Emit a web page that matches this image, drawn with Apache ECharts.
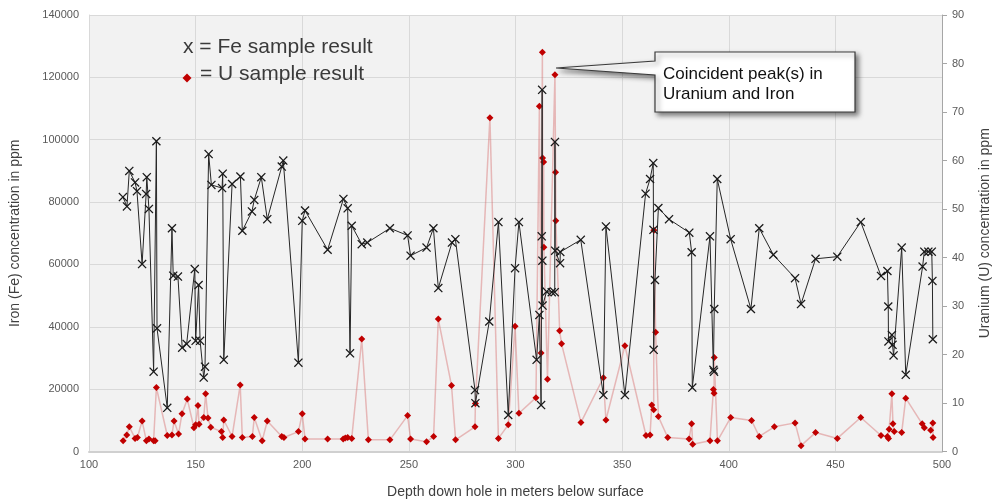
<!DOCTYPE html>
<html><head><meta charset="utf-8">
<script src="https://cdn.jsdelivr.net/npm/echarts@6/dist/echarts.min.js"></script>
<style>html,body{margin:0;padding:0;background:#fff;overflow:hidden}#c{width:992px;height:503px}</style>
</head><body><div id="c"></div>
<script>
// Fe sample results (ppm) vs depth (m)
var feDepth = [115.9,117.8,118.9,121.6,122.5,124.9,126.8,127.1,128.1,130.3,131.6,131.9,136.7,138.9,139.5,141.7,143.7,145.8,149.6,150.0,151.4,152.1,153.8,154.4,156.1,157.4,162.4,162.7,163.2,167.1,171.0,171.9,176.4,177.5,180.8,183.6,190.4,191.1,198.2,200.0,201.3,211.9,219.3,221.3,222.4,223.2,227.9,230.5,241.1,249.4,250.8,258.3,261.5,263.8,270.2,271.8,281.0,281.2,287.7,292.0,296.6,299.8,301.6,309.9,311.2,312.0,312.3,312.5,312.6,312.7,314.6,317.0,318.4,318.5,318.6,320.9,321.0,330.6,341.2,342.4,351.3,361.0,363.1,364.6,364.7,364.8,365.4,367.0,372.0,381.5,382.6,382.9,391.2,392.8,393.1,393.2,394.6,400.9,410.4,414.3,420.9,431.1,433.9,440.7,450.9,461.9,471.4,474.4,474.8,474.9,476.5,476.8,477.3,481.1,483.0,490.9,491.7,493.6,495.2,495.5,495.7];
var feValue = [81600,78600,90000,86300,83500,60100,82600,88000,77800,25600,99500,39500,14000,71600,56400,56100,33300,34500,58500,35500,53400,35500,23700,27200,95400,85500,84500,89100,29400,85800,88200,70800,77000,80700,88000,74500,91400,93300,28500,74000,77300,64700,81000,78000,31500,72400,66500,67000,71600,69300,62800,65400,71600,52400,67000,68100,19700,15500,41700,73600,11700,58800,73600,29400,43800,14900,69000,116000,61200,46800,51300,51100,51100,99300,64400,60400,64000,67900,18100,72200,18100,82700,87400,92500,71100,32600,55000,78100,74500,70200,63900,20500,69000,26200,25600,45700,87400,68100,45700,71600,63100,55600,47300,61800,62500,73600,56300,57900,46500,35300,37400,34200,30800,65400,24600,59300,64100,64100,64100,54700,36000];
// U sample results (ppm) vs depth (m)
var uDepth = [116.0,117.7,118.9,121.6,122.7,124.9,126.9,128.1,130.3,131.0,131.6,136.7,138.9,139.9,142.0,143.6,146.1,149.2,150.0,151.1,151.6,153.8,154.7,155.8,157.1,162.1,162.7,163.2,167.1,170.9,171.9,176.6,177.5,181.2,183.6,190.4,191.4,198.2,200.0,201.3,211.9,219.2,220.2,221.3,223.2,227.9,231.0,241.1,249.4,250.8,258.3,261.6,263.8,270.0,271.9,281.0,281.2,288.0,292.0,296.6,299.8,301.6,309.6,311.2,312.0,312.6,312.7,313.2,313.3,315.0,318.5,318.8,318.9,320.7,321.6,330.7,341.2,342.4,351.3,361.2,363.1,363.9,364.8,364.9,365.7,367.0,371.4,381.4,382.6,383.1,391.2,392.8,393.1,393.2,394.7,400.9,410.7,414.3,421.4,431.1,433.9,440.7,450.9,461.9,471.4,474.4,474.9,475.2,476.5,477.0,477.6,481.1,483.0,490.7,491.7,494.7,495.7,495.8];
var uValue = [2.2,3.4,5.1,2.7,2.9,6.3,2.2,2.6,2.2,2.2,13.2,3.3,3.4,6.3,3.6,7.8,10.8,4.9,5.5,9.5,5.6,7.0,11.9,6.9,5.0,4.1,2.9,6.5,3.1,13.7,2.9,3.1,7.0,2.2,6.3,3.1,2.9,4.1,7.8,2.6,2.6,2.6,2.8,2.9,2.7,23.2,2.4,2.4,7.4,2.6,2.0,3.1,27.3,13.6,2.4,5.1,9.9,68.8,2.7,5.5,25.8,7.9,11.1,71.2,20.3,82.3,60.5,59.7,42.1,14.9,77.7,57.6,47.6,24.9,22.2,6.0,15.2,6.5,21.8,3.3,3.4,9.6,8.6,45.6,24.6,7.2,2.9,2.6,5.7,1.5,2.2,12.8,12.0,19.4,2.2,7.0,6.4,3.1,5.1,5.9,1.2,3.9,2.7,7.0,3.3,3.1,2.7,4.6,11.9,5.7,4.1,3.9,11.0,5.7,4.9,4.4,5.9,2.9];

var xTicks = {min:100, max:500, interval:50};
var feTicks = {min:0, max:140000, interval:20000};
var uTicks = {min:0, max:90, interval:10};

function zip(a,b){return a.map(function(v,i){return [v,b[i]];});}
var xPath = 'path://M0,1 L1,0 L5,4 L9,0 L10,1 L6,5 L10,9 L9,10 L5,6 L1,10 L0,9 L4,5 Z';
var lab = {color:'#595959', fontSize:11, fontFamily:'Liberation Sans, Arial, sans-serif'};
var nameSty = {color:'#404040', fontSize:14, fontFamily:'Liberation Sans, Arial, sans-serif'};

var chart = echarts.init(document.getElementById('c'), null, {renderer:'canvas'});
chart.setOption({
  animation:false,
  backgroundColor:'#ffffff',
  grid:{left:89, right:50, top:15, bottom:51.5, show:true, backgroundColor:'#f2f2f2', borderWidth:0,
        containLabel:false, outerBoundsMode:'none'},
  xAxis:{type:'value', min:xTicks.min, max:xTicks.max, interval:xTicks.interval,
    name:'Depth down hole in meters below surface', nameLocation:'middle', nameGap:34, nameTextStyle:nameSty,
    axisLine:{show:true, lineStyle:{color:'#d0d0d0', width:2}}, axisTick:{show:false},
    axisLabel:Object.assign({margin:8}, lab),
    splitLine:{show:true, lineStyle:{color:'#d9d9d9', width:1}}},
  yAxis:[{type:'value', min:feTicks.min, max:feTicks.max, interval:feTicks.interval, position:'left',
    name:'Iron (Fe) concentration in ppm', nameLocation:'middle', nameGap:67, nameTextStyle:nameSty,
    axisLine:{show:true, lineStyle:{color:'#d9d9d9'}}, axisTick:{show:false},
    axisLabel:Object.assign({margin:10, formatter:function(v){return String(v);}}, lab),
    splitLine:{show:true, lineStyle:{color:'#d9d9d9', width:1}}},
   {type:'value', min:uTicks.min, max:uTicks.max, interval:uTicks.interval, position:'right',
    name:'Uranium (U) concentration in ppm', nameLocation:'middle', nameGap:36, nameRotate:90, nameTextStyle:nameSty,
    axisLine:{show:true, lineStyle:{color:'#a6a6a6'}}, axisTick:{show:true, length:5, lineStyle:{color:'#a6a6a6'}},
    axisLabel:Object.assign({margin:10}, lab),
    splitLine:{show:false}}],
  series:[
    {type:'line', name:'U', yAxisIndex:1, data:zip(uDepth,uValue), symbol:'diamond', symbolSize:7,
     showSymbol:true, showAllSymbol:true, z:2,
     itemStyle:{color:'#c00000'}, lineStyle:{color:'rgba(214,110,110,0.45)', width:1.5}},
    {type:'line', name:'Fe', yAxisIndex:0, data:zip(feDepth,feValue), symbol:xPath, symbolSize:9,
     showSymbol:true, showAllSymbol:true, z:3,
     itemStyle:{color:'#1a1a1a'}, lineStyle:{color:'#262626', width:1}}
  ],
  graphic:[
    {type:'text', left:183, top:37, z:10, style:{text:'x = Fe sample result', fontSize:21, fill:'#3a3a3a', fontFamily:'Liberation Sans, Arial, sans-serif'}},
    {type:'polygon', z:10, shape:{points:[[187,73.5],[191.5,78],[187,82.5],[182.5,78]]}, style:{fill:'#c00000'}},
    {type:'text', left:200, top:64, z:10, style:{text:'= U sample result', fontSize:21, fill:'#3a3a3a', fontFamily:'Liberation Sans, Arial, sans-serif'}},
    {type:'polygon', z:10, shape:{points:[[556,68],[655,61],[655,52],[855,52],[855,112],[655,112],[655,75]]},
     style:{fill:'#ffffff', stroke:'#3a3a3a', lineWidth:1.2, shadowBlur:5, shadowOffsetX:3, shadowOffsetY:3, shadowColor:'rgba(0,0,0,0.5)'}},
    {type:'text', left:663, top:64, z:11, style:{text:'Coincident peak(s) in\nUranium and Iron', fontSize:17, lineHeight:20, fill:'#111', fontFamily:'Liberation Sans, Arial, sans-serif'}}
  ]
});
</script></body></html>
